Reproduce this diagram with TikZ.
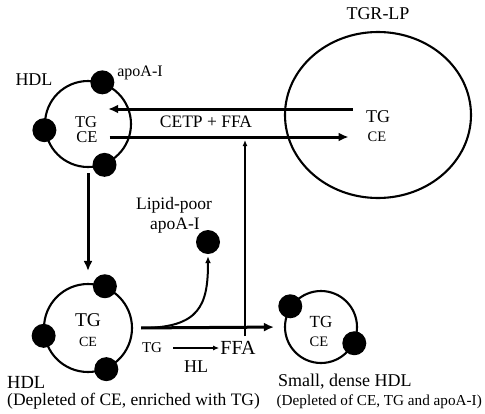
\documentclass[tikz,border=0pt]{standalone}
\usepackage{fontspec}
\setmainfont{Liberation Serif}
\usetikzlibrary{arrows.meta,shapes.geometric}

\begin{document}
\begin{tikzpicture}[x=1pt,y=-1pt,
  ring/.style={draw, circle, line width=2.1pt, inner sep=0},
  ball/.style={circle, fill=black, minimum size=24pt, inner sep=0},
  lbl/.style={font=\fontsize{17.5}{20}\selectfont, inner sep=0},
  sml/.style={font=\fontsize{14.5}{17}\selectfont, inner sep=0},
  fat/.style={line width=3pt, -{Latex[length=10pt,width=9pt]}},
  slim/.style={line width=1.3pt, -{Latex[length=6pt,width=5pt]}}]

\useasboundingbox (0,0) rectangle (485,413);

\node[ring, minimum size=86pt] (hdlA) at (88,124) {};
\node[ring, minimum size=88pt] (hdlB) at (88,328) {};
\node[ring, minimum size=72pt] (sdHDL) at (321,327) {};
\node[draw, ellipse, line width=2.1pt, minimum width=186pt, minimum height=166pt] (tgrlp) at (378,115) {};

\node[ball] (apoA1) at (hdlA.71) {};
\node[ball] (apoA2) at (hdlA.188) {};
\node[ball] (apoA3) at (hdlA.292) {};
\node[ball] (apoB1) at (hdlB.68) {};
\node[ball] (apoB2) at (hdlB.190) {};
\node[ball] (apoB3) at (hdlB.294) {};
\node[ball] (apoS1) at (sdHDL.146) {};
\node[ball] (apoS2) at (sdHDL.334) {};
\node[ball] (freeApo) at (208,242) {};

\node[lbl, font=\fontsize{18}{20}\selectfont] (tgrlpLbl) at (378,14) {TGR-LP};
\node[lbl, font=\fontsize{18}{20}\selectfont] (hdlALbl) at (34,80) {HDL};
\node[lbl, font=\fontsize{16}{18}\selectfont] (apoLbl) at (140,73) {apoA-I};
\node[lbl, font=\fontsize{16.5}{18}\selectfont] (tgA) at (86,122) {TG};
\node[lbl, font=\fontsize{16.5}{18}\selectfont] (ceA) at (87,137) {CE};
\node[lbl] (cetp) at (206,122) {CETP + FFA};
\node[lbl, font=\fontsize{18}{20}\selectfont] (tgR) at (378,117) {TG};
\node[sml] (ceR) at (377,137) {CE};

\node[lbl] (lipid) at (174,205) {Lipid-poor};
\node[lbl] (lipidApo) at (175,226) {apoA-I};

\node[lbl, font=\fontsize{19.5}{22}\selectfont] (tgB) at (88,320) {TG};
\node[sml, font=\fontsize{14}{16}\selectfont] (ceB) at (88,342) {CE};
\node[lbl, font=\fontsize{17}{18}\selectfont] (tgS) at (321,322) {TG};
\node[sml] (ceS) at (319,342) {CE};

\node[sml, font=\fontsize{15}{17}\selectfont] (tgH) at (152,348) {TG};
\node[lbl, font=\fontsize{20}{22}\selectfont] (ffa) at (238,348) {FFA};
\node[lbl, font=\fontsize{18}{20}\selectfont] (hl) at (196,367) {HL};

\node[lbl, anchor=west, font=\fontsize{18.5}{20}\selectfont] (hdlBLbl) at (7,382) {HDL};
\node[lbl, anchor=west, font=\fontsize{17.5}{18}\selectfont] (hdlBNote) at (7,401) {(Depleted of CE, enriched with TG)};
\node[lbl, anchor=west, font=\fontsize{18}{20}\selectfont] (sdLbl) at (278,382) {Small, dense HDL};
\node[lbl, anchor=east, font=\fontsize{15.2}{18}\selectfont] (sdNote) at (482,402) {(Depleted of CE, TG and apoA-I)};

\draw[fat, shorten <=13pt, shorten >=11pt] (tgR.west |- 0,109) -- (tgA.east |- 0,109);
\draw[fat, shorten <=12pt, shorten >=19pt] (ceA.east) -- (ceR.west);
\draw[fat, shorten <=5pt, shorten >=12pt] (hdlA.south) -- (hdlB.north);
\draw[fat, shorten <=8pt, shorten >=10pt] (hdlB.east) -- (sdHDL.west);
\draw[line width=2pt, -{Latex[length=7pt,width=6pt]}, shorten >=2pt]
  ([xshift=8pt]hdlB.east) .. controls (200,328) and (208,305) .. (freeApo.south);
\draw[slim, shorten <=5pt, shorten >=3pt] ([xshift=7pt]ffa.north) -- ([xshift=7pt]ffa.north |- ceA);
\draw[slim, shorten <=11pt, shorten >=1pt] (tgH.east) -- (ffa.west);
\end{tikzpicture}
\end{document}
